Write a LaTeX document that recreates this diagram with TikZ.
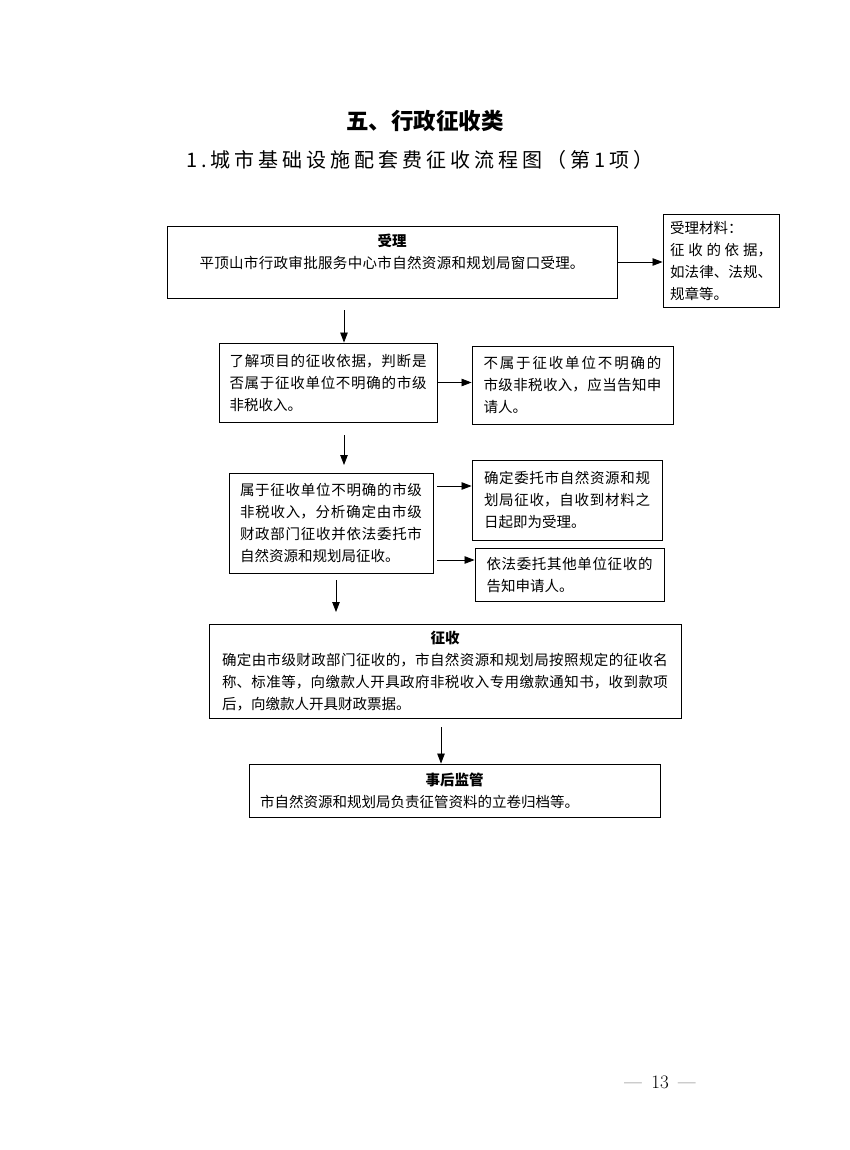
\documentclass[tikz,border=0pt]{standalone}
\usepackage{fontspec}
\newfontfamily\cjk{Noto Sans CJK SC}
\newfontfamily\cjkspaced[LetterSpace=20]{Noto Sans CJK SC}
\usetikzlibrary{arrows.meta}
\XeTeXlinebreaklocale "zh"
\XeTeXlinebreakskip=0pt plus 5pt
\setlength{\parindent}{0pt}
\tikzset{>={Triangle[length=10pt,width=7.5pt]},
  box/.style={draw, line width=0.9pt, inner sep=0pt, align=justify,
    font=\cjk\fontsize{14.5}{22}\selectfont},
  arr/.style={->, line width=0.8pt}}

\begin{document}
\begin{tikzpicture}[x=1pt,y=-1pt]
    \path[fill=white] (0,0) rectangle (850,1150);
    \useasboundingbox (0,0) rectangle (850,1150);
    \node (title) at (425,121) {\cjk\bfseries\fontsize{22.5}{26}\selectfont 五、行政征收类};
    \node (subtitle) at (420,160) {\cjkspaced\fontsize{20}{24}\selectfont 1.城市基础设施配套费征收流程图（第1项）};
    \node[box, minimum width=450, minimum height=72, text width=385] (shouli) at (392,262)
        {{\centering\bfseries 受理\par}{\parfillskip=0pt 平顶山市行政审批服务中心市自然资源和规划局窗口受理。\par}\mbox{}};
    \node[box, minimum width=116, minimum height=93, text width=102] (cailiao) at (721,260.5)
        {受理材料：\par 征收的依据，\linebreak 如法律、法规、\linebreak 规章等。};
    \node[box, minimum width=218, minimum height=79, text width=197] (panduan) at (328,382.5)
        {了解项目的征收依据，判断是\linebreak 否属于征收单位不明确的市级\linebreak 非税收入。};
    \node[box, minimum width=201, minimum height=78, text width=178] (gaozhi) at (572.5,385)
        {不属于征收单位不明确的\linebreak 市级非税收入，应当告知申\linebreak 请人。};
    \node[box, minimum width=204, minimum height=100, text width=182] (shuyu) at (331,523)
        {属于征收单位不明确的市级\linebreak 非税收入，分析确定由市级\linebreak 财政部门征收并依法委托市\linebreak 自然资源和规划局征收。};
    \node[box, minimum width=190, minimum height=80, text width=166] (weituo) at (567,500)
        {确定委托市自然资源和规\linebreak 划局征收，自收到材料之\linebreak 日起即为受理。};
    \node[box, minimum width=189, minimum height=53, text width=166] (qita) at (569.5,574.5)
        {依法委托其他单位征收的\linebreak 告知申请人。};
    \node[box, minimum width=472, minimum height=94, text width=446] (zhengshou) at (445,671)
        {{\centering\bfseries 征收\par}确定由市级财政部门征收的，市自然资源和规划局按照规定的征收名\linebreak 称、标准等，向缴款人开具政府非税收入专用缴款通知书，收到款项\linebreak 后，向缴款人开具财政票据。};
    \node[box, minimum width=411, minimum height=53, text width=389] (jianguan) at (454.5,790.5)
        {{\centering\bfseries 事后监管\par}市自然资源和规划局负责征管资料的立卷归档等。};
    \node (page) at (660,1082) {\fontsize{19}{21}\selectfont —\enspace 13\enspace —};
    \coordinate (a1) at (344,310);
    \coordinate (a2s) at (344,435);
    \coordinate (a2e) at (344,465);
    \coordinate (a3s) at (336,580);
    \coordinate (a3e) at (336,612);
    \coordinate (a4) at (441,727);
    \coordinate (h3) at (437,486);
    \coordinate (h4) at (437,560);
    \draw[arr] (shouli.east) -- (shouli.east -| cailiao.west);
    \draw[arr] (a1) -- (a1 |- panduan.north);
    \draw[arr] (panduan.east) -- (panduan.east -| gaozhi.west);
    \draw[arr] (a2s) -- (a2e);
    \draw[arr] (h3) -- (h3 -| weituo.west);
    \draw[arr] (h4) -- (h4 -| qita.west);
    \draw[arr] (a3s) -- (a3e);
    \draw[arr] (a4) -- (a4 |- jianguan.north);
\end{tikzpicture}
\end{document}
